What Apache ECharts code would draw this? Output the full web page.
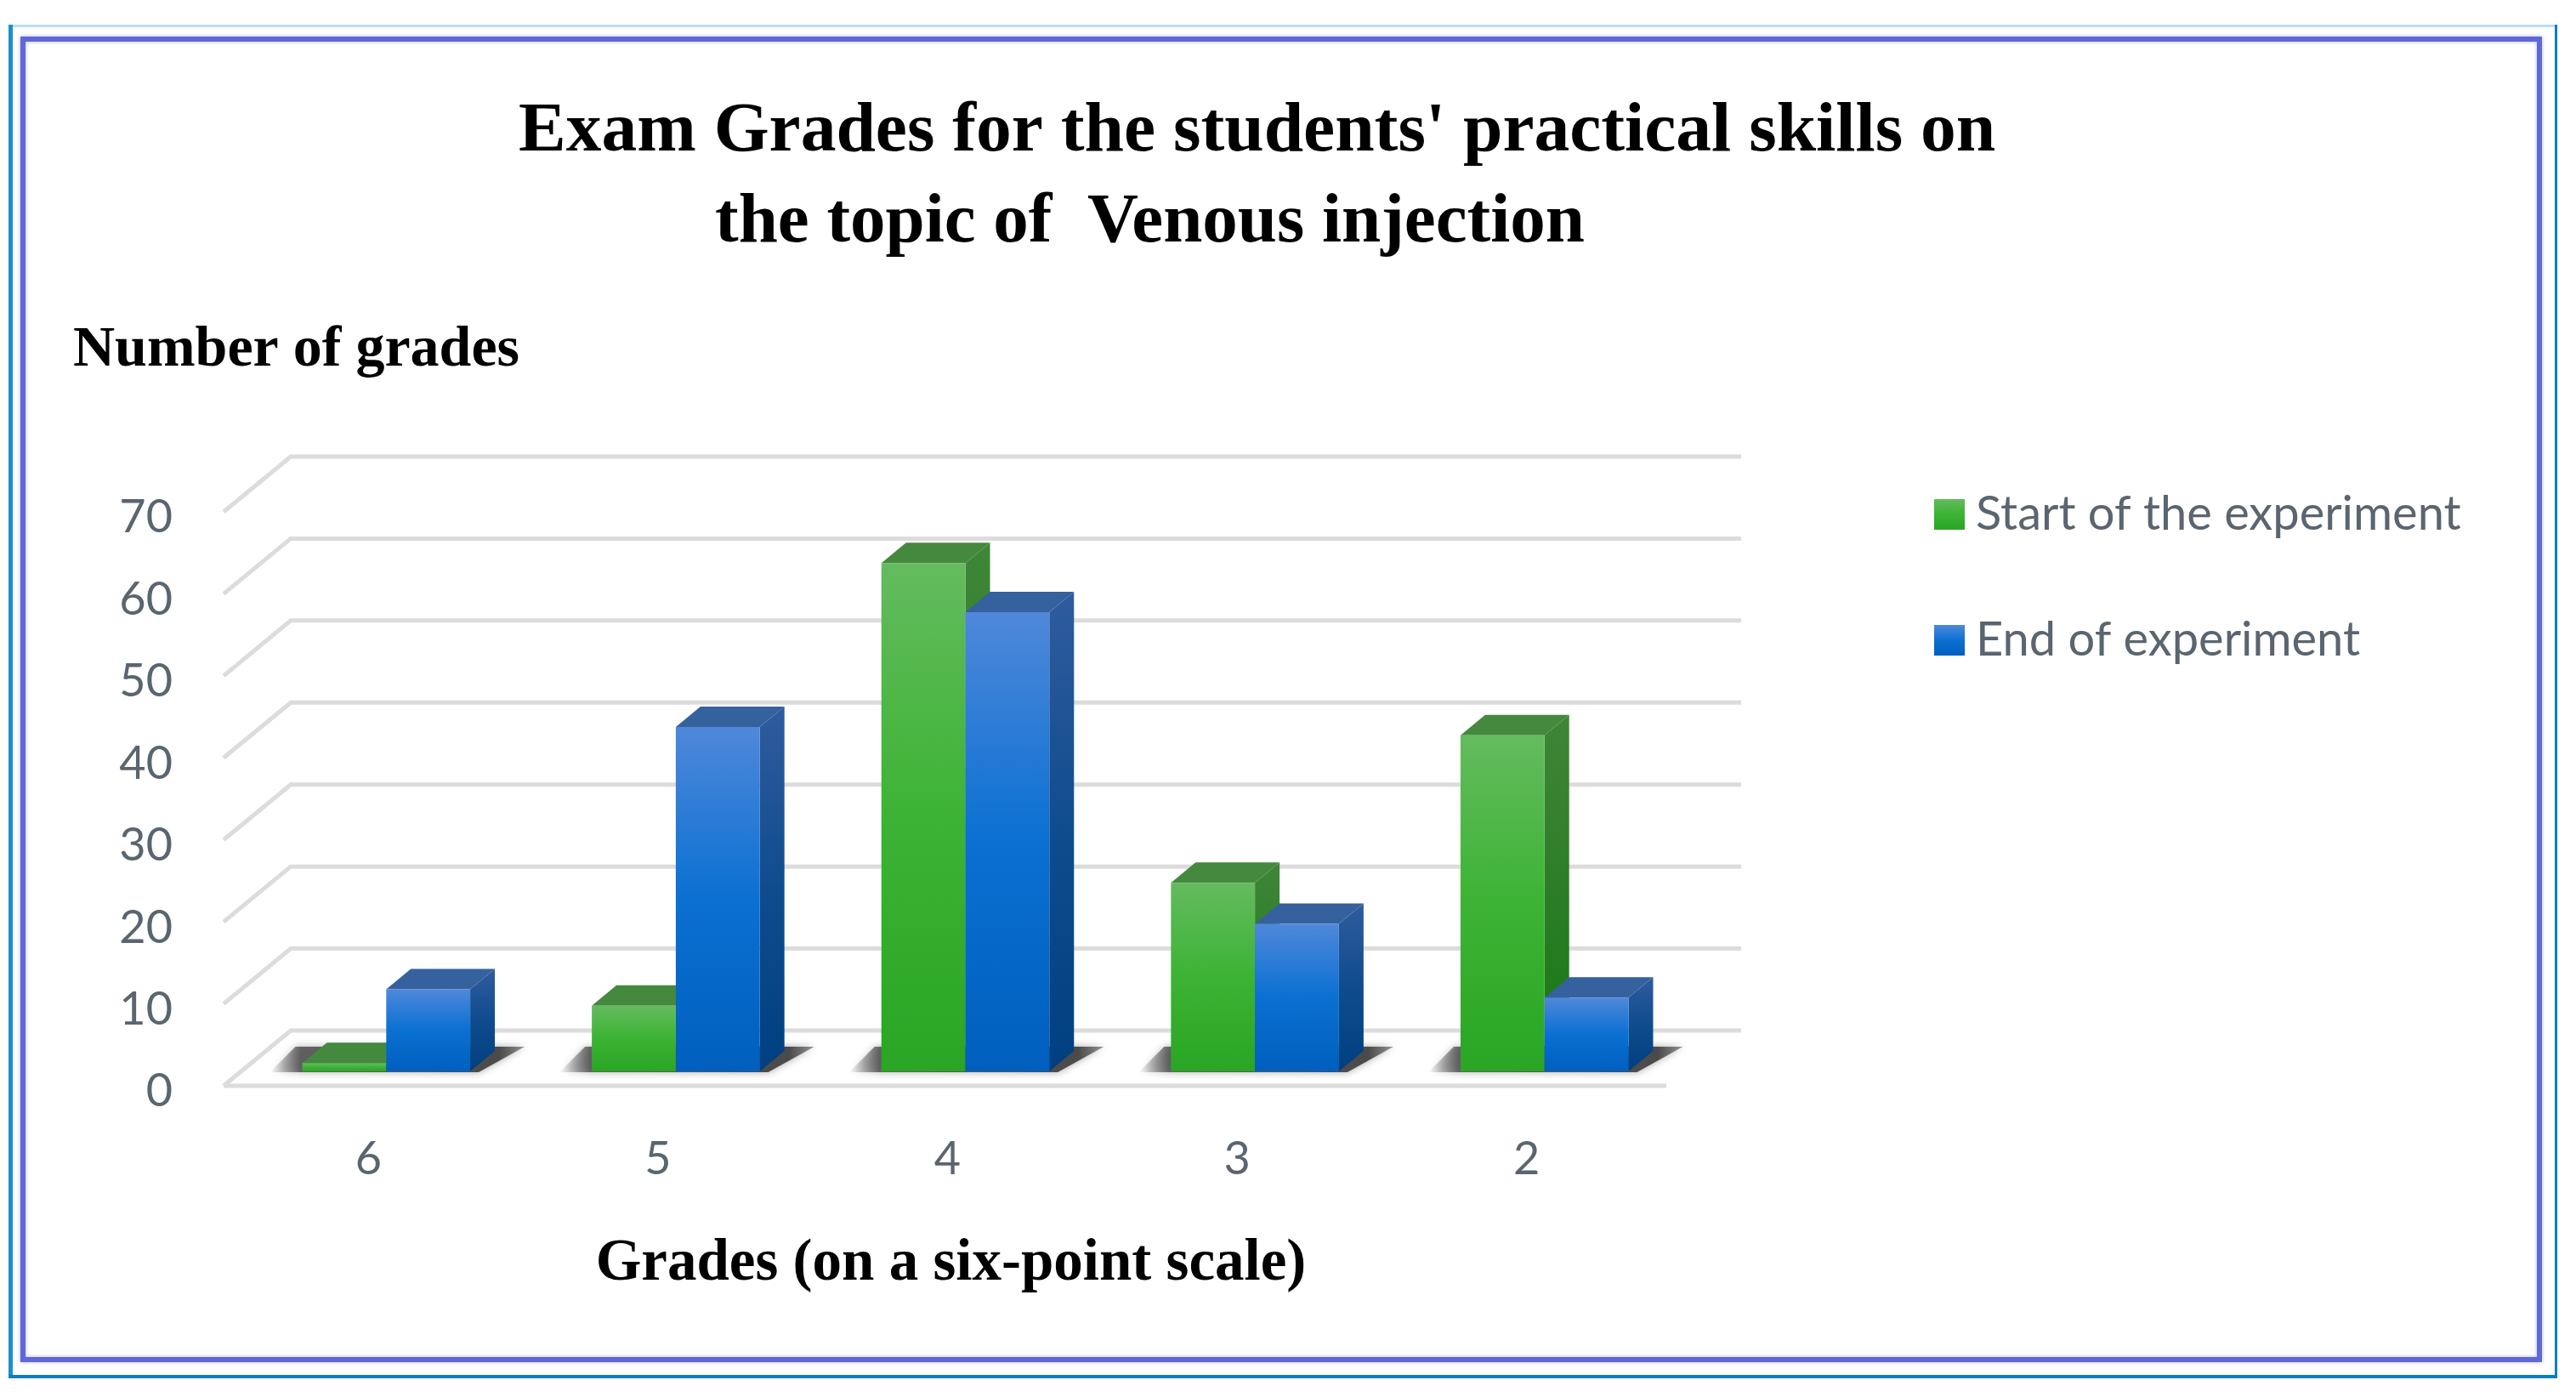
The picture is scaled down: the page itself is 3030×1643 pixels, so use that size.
<!DOCTYPE html>
<html><head><meta charset="utf-8">
<style>html,body{margin:0;padding:0;background:#fff}#c{width:3030px;height:1643px}</style>
<script src="https://cdn.jsdelivr.net/npm/echarts@6/dist/echarts.min.js"></script>
</head><body><div id="c"></div>
<script>
const grades = ['6','5','4','3','2'];
const startValues = [1,8,62,23,41];
const endValues = [10,42,56,18,9];
const tickValues = [0,10,20,30,40,50,60,70];
const titleLine1 = "Exam Grades for the students' practical skills on";
const titleLine2 = "the topic of  Venous injection";
const yName = "Number of grades";
const xName = "Grades (on a six-point scale)";
const startName = "Start of the experiment";
const endName = "End of experiment";

const WALL = {dx:79, dy:-65, extra:3, floorCut:6};
const BAR = {shiftX:21, shiftY:-17, dx:29, dy:-24, frac:0.29};
const grad = (a,b,c)=>new echarts.graphic.LinearGradient(0,0,0,1,[{offset:0,color:a},{offset:.5,color:b},{offset:1,color:c}]);
const greenFront = ()=>grad('#64bb5e','#3cb334','#2aa524');
const blueFront = ()=>grad('#4f88da','#0a70d2','#005fbe');

function gridItem(params, api){
  const v = api.value(1);
  const p = api.coord([0,v]);
  const band = api.size([1,0])[0];
  const x0 = p[0]-band/2, x1 = x0+band*5, y = p[1];
  const style = {fill:null, stroke:'#dcdcdc', lineWidth:5};
  const kids = [{type:'polyline',shape:{points:[[x0,y],[x0+WALL.dx,y+WALL.dy],[x1+WALL.dx+WALL.extra,y+WALL.dy]]},style}];
  if(v===0) kids.push({type:'line',shape:{x1:x0,y1:y,x2:x1-WALL.floorCut,y2:y},style});
  return {type:'group',children:kids};
}
function shadowItem(params, api){
  const p = api.coord([api.value(0),0]);
  const band = api.size([1,0])[0], w = band*BAR.frac;
  const y = p[1]+BAR.shiftY+1, l = p[0]+BAR.shiftX-w, r = p[0]+BAR.shiftX+w;
  const fill = new echarts.graphic.LinearGradient(0,0,1,0,[
    {offset:0,color:'rgba(90,90,90,0)'},{offset:.12,color:'rgba(80,80,80,.85)'},
    {offset:.9,color:'#4a4a4a'},{offset:1,color:'rgba(110,110,110,.7)'}]);
  return {type:'polygon',shape:{points:[[l-38,y],[l-8,y-30],[r+64,y-30],[r+10,y]]},
    style:{fill,shadowBlur:10,shadowColor:'rgba(90,90,90,.55)'}};
}
function barItem(side, front, sideCol, topCol){
  return function(params, api){
    const c = api.coord([api.value(0),api.value(1)]);
    const b = api.coord([api.value(0),0]);
    const w = api.size([1,0])[0]*BAR.frac;
    const l = c[0]+BAR.shiftX+(side<0?-w:0), r = l+w;
    const t = c[1]+BAR.shiftY, y0 = b[1]+BAR.shiftY;
    const d = BAR.dx, e = BAR.dy;
    return {type:'group',children:[
      {type:'polygon',shape:{points:[[r,t],[r+d,t+e],[r+d,y0+e],[r,y0]]},style:{fill:sideCol()}},
      {type:'polygon',shape:{points:[[l,t],[l+d,t+e],[r+d,t+e],[r,t]]},style:{fill:topCol}},
      {type:'rect',shape:{x:l,y:t,width:w,height:y0-t},style:{fill:front()}}
    ]};
  };
}
const serif = '"Liberation Serif"';
const textC = '#5b6570';
const chart = echarts.init(document.getElementById('c'),null,{renderer:'canvas'});
chart.setOption({
  animation:false,
  backgroundColor:'#fff',
  title:[
    {text:titleLine1,left:605,top:108,textStyle:{fontFamily:serif,fontWeight:'bold',fontSize:83.5,color:'#000'}},
    {text:titleLine2,left:836,top:216,textStyle:{fontFamily:serif,fontWeight:'bold',fontSize:83,color:'#000'}},
    {text:yName,left:81,top:373,textStyle:{fontFamily:serif,fontWeight:'bold',fontSize:68,color:'#000'}}
  ],
  legend:{orient:'vertical',left:2270,top:572,itemWidth:36,itemHeight:36,icon:'rect',itemGap:92,
    data:[startName,endName],textStyle:{fontFamily:'Lato',fontSize:56,color:textC,padding:[0,0,0,8]}},
  grid:{left:263,top:602,width:1703,height:675},
  xAxis:{type:'category',data:grades,axisLine:{show:false},axisTick:{show:false},
    axisLabel:{margin:60,fontFamily:'Lato',fontSize:54,color:textC},
    name:xName,nameLocation:'middle',nameGap:176,
    nameTextStyle:{fontFamily:serif,fontWeight:'bold',fontSize:69,color:'#000',padding:[0,0,0,8]}},
  yAxis:{type:'value',min:0,max:70,interval:10,axisLine:{show:false},axisTick:{show:false},splitLine:{show:false},
    axisLabel:{margin:60,fontFamily:'Lato',fontSize:54,color:textC,verticalAlign:'top',lineHeight:14}},
  series:[
    {type:'custom',name:'walls',silent:true,z:1,renderItem:gridItem,data:tickValues.map(v=>[0,v]),encode:{x:0,y:1}},
    {type:'custom',name:'shadows',silent:true,z:2,renderItem:shadowItem,data:grades.map((g,i)=>[i,0]),encode:{x:0,y:1}},
    {type:'custom',name:startName,z:3,itemStyle:{color:greenFront()},
      renderItem:barItem(-1,greenFront,()=>grad('#3f8638','#2c7d26','#157a10'),'#44893e'),
      data:startValues.map((v,i)=>[i,v]),encode:{x:0,y:1}},
    {type:'custom',name:endName,z:4,itemStyle:{color:blueFront()},
      renderItem:barItem(1,blueFront,()=>grad('#2f5c9e','#0f4c8e','#003f80'),'#36619f'),
      data:endValues.map((v,i)=>[i,v]),encode:{x:0,y:1}}
  ],
  graphic:[
    {type:'rect',silent:true,z:-1,shape:{x:10,y:29,width:2998,height:3},style:{fill:'#b8dff0'}},
    {type:'rect',silent:true,z:-1,shape:{x:10,y:29,width:5,height:1592},style:{fill:'#1a8fc9'}},
    {type:'rect',silent:true,z:-1,shape:{x:3005,y:29,width:3,height:1592},style:{fill:'#0a7fc0'}},
    {type:'rect',silent:true,z:-1,shape:{x:10,y:1617,width:2998,height:4},style:{fill:'#0a7fc0'}},
    {type:'rect',silent:true,z:-1,shape:{x:27,y:46,width:2960,height:1553},style:{fill:null,stroke:'#6068d8',lineWidth:6,shadowBlur:4,shadowColor:'rgba(96,104,216,.5)'}}
  ]
});
</script></body></html>
